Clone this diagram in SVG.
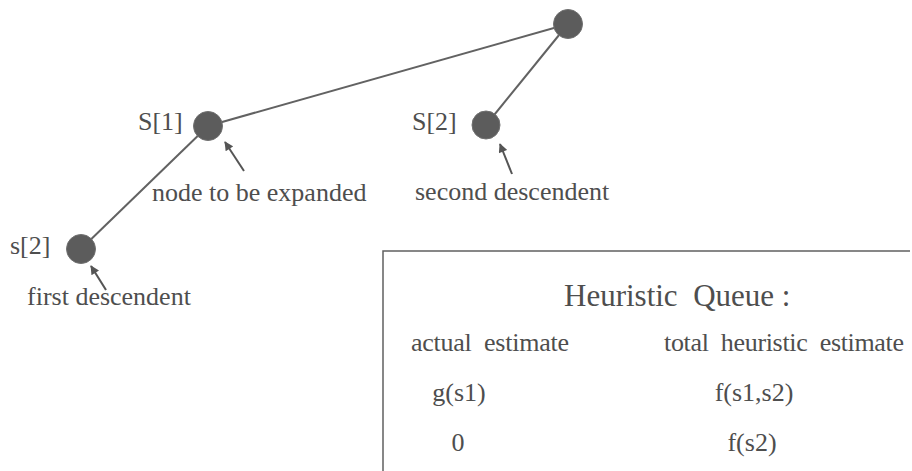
<svg xmlns="http://www.w3.org/2000/svg" width="912" height="471" viewBox="0 0 912 471">
<defs>
<style>
text{font-family:"Liberation Serif","Times New Roman",serif;fill:#4e4e4e;font-size:26px}
text.big{font-size:31px}
.edge{stroke:#626262;stroke-width:2;fill:none}
.node{fill:#5c5c5c;stroke:#707070;stroke-width:1}
.arr{stroke:#555;stroke-width:2;fill:none}
</style>
<marker id="ah" viewBox="0 0 10 10" refX="9" refY="5" markerWidth="5.5" markerHeight="4.5" orient="auto" markerUnits="strokeWidth">
<path d="M0,0 L10,5 L0,10 z" fill="#555"/>
</marker>
</defs>
<rect width="912" height="471" fill="#fff"/>
<g id="connectors">
<line class="edge" x1="208" y1="126" x2="568" y2="24"/>
<line class="edge" x1="486" y1="125" x2="568" y2="24"/>
<line class="edge" x1="81" y1="249" x2="208" y2="126"/>
<line class="arr" x1="244" y1="171" x2="225" y2="142" marker-end="url(#ah)"/>
<line class="arr" x1="512" y1="174" x2="500" y2="144" marker-end="url(#ah)"/>
<line class="arr" x1="106" y1="290" x2="91" y2="266" marker-end="url(#ah)"/>
</g>
<g id="root"><circle class="node" cx="568" cy="24" r="14.5"/></g>
<g id="S1"><circle class="node" cx="208" cy="126" r="14.5"/><text x="138" y="130">S[1]</text><text x="152" y="201">node to be expanded</text></g>
<g id="S2"><circle class="node" cx="486" cy="125" r="14"/><text x="412" y="130">S[2]</text><text x="415" y="200">second descendent</text></g>
<g id="s2"><circle class="node" cx="81" cy="249" r="14.5"/><text x="10" y="254">s[2]</text><text x="27" y="305">first descendent</text></g>
<g id="queue">
<path d="M383,471 V251 H910" fill="none" stroke="#606060" stroke-width="1.5"/>
<text class="big" x="564" y="306" xml:space="preserve">Heuristic  Queue :</text>
<text x="411" y="351" xml:space="preserve" textLength="158">actual  estimate</text>
<text x="664" y="351" xml:space="preserve" textLength="240">total  heuristic  estimate</text>
<text x="459" y="401" text-anchor="middle">g(s1)</text>
<text x="754" y="401" text-anchor="middle">f(s1,s2)</text>
<text x="458" y="451" text-anchor="middle">0</text>
<text x="752" y="451" text-anchor="middle">f(s2)</text>
</g>
</svg>
